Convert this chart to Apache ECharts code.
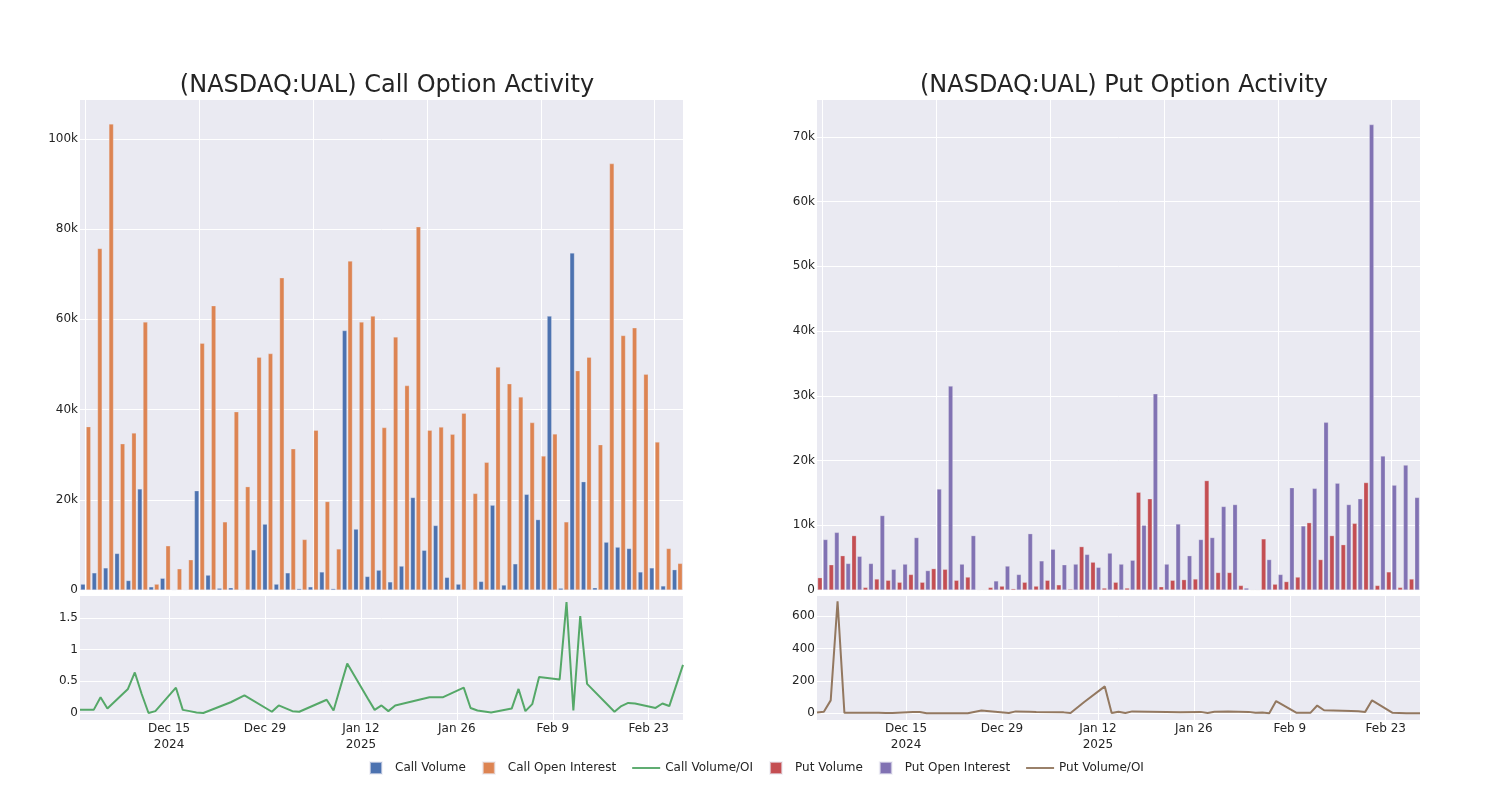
<!DOCTYPE html>
<html>
<head>
<meta charset="utf-8">
<script src="https://cdn.jsdelivr.net/npm/echarts@6/dist/echarts.min.js"></script>
<style>
html,body{margin:0;padding:0;background:#fff;}
#chart{width:1500px;height:800px;}
</style>
</head>
<body>
<div id="chart"></div>
<script>
const dates = ['2024-12-02','2024-12-03','2024-12-04','2024-12-05','2024-12-06','2024-12-09','2024-12-10','2024-12-11','2024-12-12','2024-12-13',
'2024-12-16','2024-12-17','2024-12-18','2024-12-19','2024-12-20','2024-12-24','2024-12-26','2024-12-30','2024-12-31',
'2025-01-02','2025-01-03','2025-01-07','2025-01-08','2025-01-10','2025-01-13','2025-01-14','2025-01-15','2025-01-16','2025-01-17',
'2025-01-22','2025-01-24','2025-01-27','2025-01-28','2025-01-29','2025-01-31',
'2025-02-03','2025-02-04','2025-02-05','2025-02-06','2025-02-07','2025-02-10','2025-02-11','2025-02-12','2025-02-13','2025-02-14',
'2025-02-18','2025-02-19','2025-02-20','2025-02-21','2025-02-24','2025-02-25','2025-02-26','2025-02-28'];

const callVolume = [1300,3800,4900,8100,2100,22400,700,2600,0,100,22000,3300,400,500,100,8900,14600,1300,3800,300,700,4000,300,57500,13500,3000,4400,1800,5300,20500,8800,14300,2800,1300,100,1900,18800,1100,5800,21200,15600,60700,400,74700,24000,500,10600,9500,9200,4000,4900,900,4500];
const callOpenInterest = [36200,75700,103300,32400,34800,59400,1300,9800,4700,6700,54700,63000,15100,39500,22900,51600,52400,69200,31300,11200,35400,19600,9100,72900,59400,60700,36000,56100,45300,80500,35400,36100,34500,39200,21400,28300,49400,45700,42800,37100,29700,34600,15100,48600,51600,32200,94500,56400,58100,47800,32800,9200,5900];
const callVolumeOI = [0.05,0.05,0.05,0.25,0.07,0.38,0.64,0.30,0.0,0.03,0.40,0.05,0.03,0.01,0.0,0.17,0.28,0.02,0.12,0.03,0.02,0.21,0.04,0.78,0.23,0.05,0.12,0.03,0.12,0.25,0.25,0.40,0.08,0.04,0.01,0.07,0.38,0.03,0.14,0.57,0.53,1.75,0.04,1.53,0.46,0.02,0.11,0.16,0.15,0.08,0.15,0.11,0.76];

const putVolume = [1900,3900,5300,8400,400,1700,1500,1200,2400,1200,3300,3200,1500,2000,50,400,600,200,1200,600,1500,800,150,6700,4300,300,1200,300,15100,14100,500,1500,1600,1700,16900,2700,2700,700,50,7900,900,1300,2000,10400,4700,8400,7000,10300,16600,700,2800,400,1700];
const putOpenInterest = [7800,8900,4100,5200,4100,11500,3200,4000,8100,3000,15600,31500,4000,8400,50,1400,3700,2400,8700,4500,6300,3900,4000,5500,3500,5700,4000,4600,10000,30300,4000,10200,5300,7800,8100,12900,13200,300,50,4700,2400,15800,9900,15700,25900,16500,13200,14100,71900,20700,16200,19300,14300];
const putVolumeOI = [5,10,80,690,3,3,4,3,2,2,8,8,1,1,1,1,17,2,12,10,8,6,2,70,166,2,10,2,12,9,6,9,2,10,12,9,3,5,1,76,3,3,3,48,19,15,13,9,80,3,2,1,1];

const xTickDates = ['2024-12-15','2024-12-29','2025-01-12','2025-01-26','2025-02-09','2025-02-23'];
const xTickLabels = ['Dec 15\n2024','Dec 29','Jan 12\n2025','Jan 26','Feb 9','Feb 23'];
const callYTicks = [0,20000,40000,60000,80000,100000];
const putYTicks = [0,10000,20000,30000,40000,50000,60000,70000];
const callRatioTicks = [0,0.5,1,1.5];
const putRatioTicks = [0,200,400,600];
const barTickIdx = [0,10,20,30,40,50];

const ts = d => new Date(d + 'T00:00:00Z').getTime();
const tickTs = xTickDates.map(ts);
const FONT = 'DejaVu Sans';
const TXT = '#242424';
const BG = '#EAEAF2';

const kFmt = v => v === 0 ? '0' : (v / 1000) + 'k';
const dateFmt = v => { const i = tickTs.indexOf(v); return i >= 0 ? xTickLabels[i] : ''; };

function barX(idx){
  return {type:'value', gridIndex:idx, min:-0.5, max:dates.length-0.5,
    axisLine:{show:false}, axisTick:{show:false, customValues:barTickIdx},
    axisLabel:{show:false, customValues:barTickIdx},
    splitLine:{show:true, lineStyle:{color:'#fff', width:1}}};
}
function dateX(idx){
  return {type:'value', gridIndex:idx, min:ts(dates[0]), max:ts(dates[dates.length-1]),
    axisLine:{show:false}, axisTick:{show:false, customValues:tickTs},
    axisLabel:{customValues:tickTs, formatter:dateFmt, fontFamily:FONT, fontSize:12, color:TXT, lineHeight:16, margin:1},
    splitLine:{show:true, lineStyle:{color:'#fff', width:1}}};
}
function valY(idx, min, max, ticks, fmt){
  return {type:'value', gridIndex:idx, min:min, max:max,
    axisLine:{show:false}, axisTick:{show:false, customValues:ticks},
    axisLabel:{customValues:ticks, formatter:fmt, fontFamily:FONT, fontSize:12, color:TXT, margin:2},
    splitLine:{show:true, lineStyle:{color:'#fff', width:1}}};
}

const gridBase = {show:true, backgroundColor:BG, borderWidth:0, containLabel:false};
const option = {
  animation:false,
  backgroundColor:'#fff',
  title:[
    {text:'(NASDAQ:UAL) Call Option Activity', left:382, top:69, textAlign:'center',
     textStyle:{fontFamily:FONT, fontSize:24, fontWeight:'normal', color:TXT}},
    {text:'(NASDAQ:UAL) Put Option Activity', left:1119, top:69, textAlign:'center',
     textStyle:{fontFamily:FONT, fontSize:24, fontWeight:'normal', color:TXT}}
  ],
  legend:{
    left:364, top:756, itemWidth:28, itemHeight:12, itemGap:16,
    textStyle:{fontFamily:FONT, fontSize:12, color:TXT},
    data:[
      {name:'Call Volume', icon:'path://M0,0L10,0L10,10L0,10Z'},
      {name:'Call Open Interest', icon:'path://M0,0L10,0L10,10L0,10Z'},
      {name:'Call Volume/OI', icon:'path://M0,0L30,0L30,2L0,2Z'},
      {name:'Put Volume', icon:'path://M0,0L10,0L10,10L0,10Z'},
      {name:'Put Open Interest', icon:'path://M0,0L10,0L10,10L0,10Z'},
      {name:'Put Volume/OI', icon:'path://M0,0L30,0L30,2L0,2Z'}
    ]
  },
  grid:[
    Object.assign({left:80, top:100, width:603, height:490}, gridBase),
    Object.assign({left:80, top:596, width:603, height:124}, gridBase),
    Object.assign({left:817, top:100, width:603, height:490}, gridBase),
    Object.assign({left:817, top:596, width:603, height:124}, gridBase)
  ],
  xAxis:[barX(0), dateX(1), barX(2), dateX(3)],
  yAxis:[
    valY(0, 0, 108600, callYTicks, kFmt),
    valY(1, -0.11, 1.847, callRatioTicks, v => String(v)),
    valY(2, 0, 75700, putYTicks, kFmt),
    valY(3, -41, 723, putRatioTicks, v => String(v))
  ],
  series:[
    {name:'Call Volume', type:'bar', xAxisIndex:0, yAxisIndex:0, barWidth:4.6, barGap:'20%',
     itemStyle:{color:'#4C72B0', borderColor:'rgba(234,234,242,0.6)', borderWidth:0.5},
     data:callVolume.map((v,i)=>[i,v])},
    {name:'Call Open Interest', type:'bar', xAxisIndex:0, yAxisIndex:0, barWidth:4.6, barGap:'20%',
     itemStyle:{color:'#DD8452', borderColor:'rgba(234,234,242,0.6)', borderWidth:0.5},
     data:callOpenInterest.map((v,i)=>[i,v])},
    {name:'Call Volume/OI', type:'line', xAxisIndex:1, yAxisIndex:1, showSymbol:false, symbol:'none',
     itemStyle:{color:'#55A868'}, lineStyle:{color:'#55A868', width:2},
     data:dates.map((d,i)=>[ts(d), callVolumeOI[i]])},
    {name:'Put Volume', type:'bar', xAxisIndex:2, yAxisIndex:2, barWidth:4.6, barGap:'20%',
     itemStyle:{color:'#C44E52', borderColor:'rgba(234,234,242,0.6)', borderWidth:0.5},
     data:putVolume.map((v,i)=>[i,v])},
    {name:'Put Open Interest', type:'bar', xAxisIndex:2, yAxisIndex:2, barWidth:4.6, barGap:'20%',
     itemStyle:{color:'#8172B3', borderColor:'rgba(234,234,242,0.6)', borderWidth:0.5},
     data:putOpenInterest.map((v,i)=>[i,v])},
    {name:'Put Volume/OI', type:'line', xAxisIndex:3, yAxisIndex:3, showSymbol:false, symbol:'none',
     itemStyle:{color:'#937860'}, lineStyle:{color:'#937860', width:2},
     data:dates.map((d,i)=>[ts(d), putVolumeOI[i]])}
  ]
};
const chart = echarts.init(document.getElementById('chart'), null, {renderer:'canvas'});
chart.setOption(option);
</script>
</body>
</html>
